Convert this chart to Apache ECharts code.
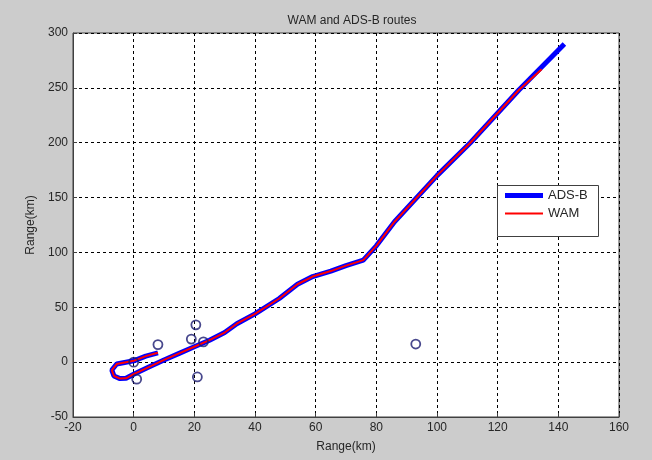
<!DOCTYPE html>
<html>
<head>
<meta charset="utf-8">
<script src="https://cdn.jsdelivr.net/npm/echarts@6/dist/echarts.min.js"></script>
<style>
  html, body { margin: 0; padding: 0; background: #cccccc; }
  #chart { width: 652px; height: 460px; }
</style>
</head>
<body>
<div id="chart"></div>
<script>
// ADS-B track (km east, km north)
var adsbX = [8, 4, 0, -3, -5.6, -7.2, -6.5, -4.5, -2.5, 0, 5, 10, 15, 20, 25, 30, 34, 40, 48, 54, 59, 65, 70, 75.7, 80, 86, 100, 111, 127, 142];
var adsbY = [8.5, 5.5, 1.2, -0.3, -1.7, -7.2, -12.6, -15, -14.7, -11, -4.5, 2, 8, 14, 20, 27, 35, 44, 58, 71, 78, 83, 88, 93, 106, 128, 170, 200, 248, 290];

// WAM track
var wamX = [8, 4, 0, -3, -5.6, -7.2, -6.5, -4.5, -2.5, 0, 5, 10, 15, 20, 25, 30, 34, 40, 48, 54, 59, 65, 70, 75.7, 80, 86, 100, 111, 127, 134.5];
var wamY = [8.5, 5.5, 1.2, -0.3, -1.7, -7.2, -12.6, -15, -14.7, -11, -4.5, 2, 8, 14, 20, 27, 35, 44, 58, 71, 78, 83, 88, 93, 106, 128, 170, 200, 248, 267];

// Isolated detections
var plotX = [0, 1, 8, 20.5, 19, 23, 21, 93];
var plotY = [0, -15.5, 16, 34, 21, 18.5, -13.5, 16.5];

// Axis ticks
var xTicks = [-20, 0, 20, 40, 60, 80, 100, 120, 140, 160];
var yTicks = [-50, 0, 50, 100, 150, 200, 250, 300];

function pairs(xs, ys) {
  return xs.map(function (x, i) { return [x, ys[i]]; });
}

var textColor = '#262626';
var fontFamily = '"Liberation Sans", Arial, sans-serif';

var chart = echarts.init(document.getElementById('chart'), null, { renderer: 'canvas' });

var legendText = { fontSize: 13, color: textColor, fontFamily: fontFamily };

chart.setOption({
  backgroundColor: '#cccccc',
  animation: false,
  textStyle: { fontFamily: fontFamily },
  title: {
    text: 'WAM and ADS-B routes',
    left: 347, top: 10, textAlign: 'center',
    textStyle: { fontSize: 12, fontWeight: 'normal', color: textColor, fontFamily: fontFamily }
  },
  grid: {
    left: 73, top: 33, width: 546, height: 384,
    show: true, backgroundColor: '#ffffff', borderColor: '#404040', borderWidth: 1
  },
  // legend frame
  graphic: [{
    type: 'rect', left: 497, top: 185, z: 50,
    shape: { width: 101, height: 51 },
    style: { fill: '#ffffff', stroke: '#404040', lineWidth: 1 }
  }],
  legend: [
    {
      left: 505, top: 189, padding: 0, z: 60,
      icon: 'rect', itemWidth: 38, itemHeight: 5, itemGap: 0,
      textStyle: legendText,
      data: ['ADS-B']
    },
    {
      left: 505, top: 207, padding: 0, z: 60,
      icon: 'rect', itemWidth: 38, itemHeight: 2, itemGap: 0,
      textStyle: legendText,
      data: ['WAM']
    }
  ],
  xAxis: {
    type: 'value',
    min: xTicks[0], max: xTicks[xTicks.length - 1], interval: 20,
    name: 'Range(km)', nameLocation: 'middle', nameGap: 24,
    nameTextStyle: { fontSize: 12, color: textColor },
    axisLine: { show: true, onZero: false, lineStyle: { color: '#404040' } },
    axisTick: { show: true, inside: true, length: 4, lineStyle: { color: '#404040' } },
    axisLabel: { fontSize: 12, color: textColor, margin: 5 },
    splitLine: { show: true, lineStyle: { color: '#000000', type: [3, 3], width: 1 } }
  },
  yAxis: {
    type: 'value',
    min: yTicks[0], max: yTicks[yTicks.length - 1], interval: 50,
    name: 'Range(km)', nameLocation: 'middle', nameGap: 34, nameRotate: 90,
    nameTextStyle: { fontSize: 12, color: textColor },
    axisLine: { show: true, onZero: false, lineStyle: { color: '#404040' } },
    axisTick: { show: true, inside: true, length: 4, lineStyle: { color: '#404040' } },
    axisLabel: { fontSize: 12, color: textColor, margin: 5 },
    splitLine: { show: true, lineStyle: { color: '#000000', type: [3, 3], width: 1 } }
  },
  series: [
    {
      name: 'ADS-B', type: 'line', data: pairs(adsbX, adsbY),
      symbol: 'none', smooth: false,
      lineStyle: { color: '#0000ff', width: 5 },
      itemStyle: { color: '#0000ff' },
      z: 2
    },
    {
      name: 'WAM', type: 'line', data: pairs(wamX, wamY),
      symbol: 'none', smooth: false,
      lineStyle: { color: '#ff0000', width: 2 },
      itemStyle: { color: '#ff0000' },
      z: 3
    },
    {
      name: 'plots', type: 'scatter', data: pairs(plotX, plotY),
      symbol: 'circle', symbolSize: 9,
      itemStyle: { color: 'rgba(0,0,0,0)', borderColor: '#1a1a70', borderWidth: 1.8 },
      z: 4
    }
  ]
});
</script>
</body>
</html>
